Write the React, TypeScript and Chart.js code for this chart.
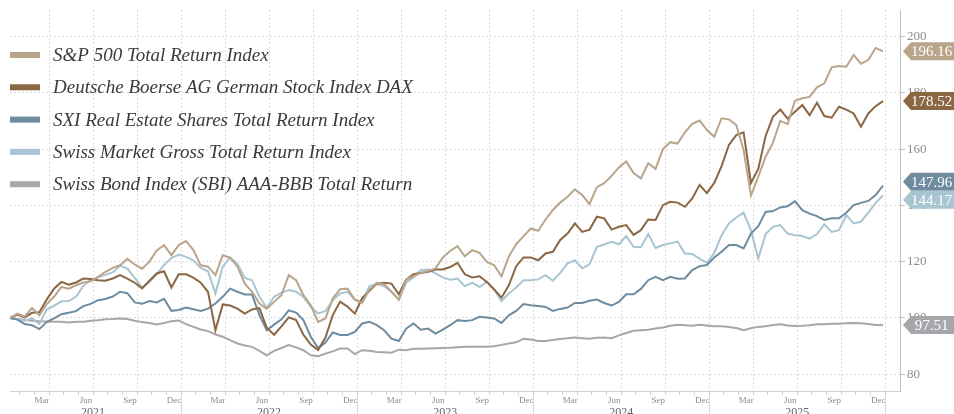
import React, { useEffect, useRef } from 'react';
import { Chart, registerables } from 'chart.js';

Chart.register(...registerables);

// ---- data ----
const SERIES_NAMES = [
  'S&P 500 Total Return Index',
  'Deutsche Boerse AG German Stock Index DAX',
  'SXI Real Estate Shares Total Return Index',
  'Swiss Market Gross Total Return Index',
  'Swiss Bond Index (SBI) AAA-BBB Total Return',
];
const SERIES_COLORS = ['#b9a48c', '#8a6642', '#6e8ba0', '#a9c5d1', '#a7a7ab'];
const LAST_VALUE_LABELS = ['196.16', '178.52', '147.96', '144.17', '97.51'];

// semi-monthly observations, first one in early January 2021 (x = months since 1 Jan 2021)
const FIRST_OBS_MONTH = 0.34;
const OBS_STEP_MONTHS = 0.5;

const SP500 = [
  100, 101.5, 100.5, 103.5, 101, 104.9, 107.5, 111, 110.4, 111.6, 112.6, 113, 114.6, 116.4, 117.8, 118.7, 121, 119, 117.5, 120, 124, 125.9, 122.3, 125.9,
  127.3, 124.1, 118.7, 118.2, 115.2, 122.3, 121.4, 118.2, 112.2, 109.3, 105.1, 103.3, 105.7, 108.1, 115.2, 113.4, 108.1, 104.5, 98.6, 99.8, 106.9, 110.2, 110.4, 106.5,
  105.3, 110.1, 112.5, 112, 109.3, 106.5, 113.6, 114.8, 116, 116.7, 117.6, 121.5, 123.8, 125.5, 121.9, 124.1, 123.1, 119.9, 118.7, 114.8, 121.9, 126.2, 129.1,
  131.8, 131, 135, 138.4, 141, 143.1, 145.7, 143.7, 140.5, 146.5, 147.9, 150.5, 153.5, 155.6, 151.5, 149.6, 155, 153, 160, 162.5, 162, 166, 169, 170.2, 166.8,
  164.4, 171, 170.6, 168.6, 159.7, 143.5, 150.2, 157.3, 162.3, 170.1, 168.9, 177.2, 178.1, 178.6, 182, 183.4, 189.1, 189.6, 189.3, 193.5, 190.4, 191.7, 196, 194.8,
];
const DAX = [
  100, 101.2, 100.2, 101.8, 102, 106.5, 110.4, 112.8, 111.8, 112.6, 114, 113.8, 113.4, 113.2, 114, 115.2, 114, 112.5, 110.5, 113.2, 115.8, 116.6, 110.8, 115.5,
  115.5, 114.3, 112.5, 109.2, 95.6, 104.8, 104.4, 103.3, 101.5, 103, 103.5, 96.5, 94, 97, 100.2, 99.2, 94, 90.5, 88.6, 93, 101, 105.8, 104, 101.5,
  107, 109.6, 112.2, 112.5, 112.2, 108.4, 113.6, 115.5, 116, 116.4, 117.2, 117.2, 118.1, 119.6, 115.5, 114.4, 114.8, 112.8, 110.1, 107.2, 111.6, 118.4, 121.5,
  121.5, 120.5, 122.9, 123.5, 127.7, 130, 133.6, 130.6, 131.4, 136, 135.4, 131.4, 132.4, 133, 129.5, 131.2, 135, 134.8, 140.1, 141.3, 141, 139.5, 142.5, 147.3, 144.4,
  148, 154, 161.5, 165, 166, 148, 153, 164.7, 171.5, 174.1, 170.9, 173.3, 175.7, 172.1, 176.5, 171.8, 171.2, 175.1, 174.1, 172.7, 168, 172.7, 175.3, 177.1,
];
const SXI = [
  100, 99.4, 97.8, 97.4, 96, 98.5, 99.8, 101.3, 101.8, 102.4, 104.2, 105, 106.3, 106.7, 107.6, 109.3, 108.8, 105.5, 105, 106, 105.5, 106.8, 102.5, 102.8,
  103.7, 103.1, 102.5, 103.3, 105.1, 107.5, 110.4, 109.3, 108.3, 108.3, 101, 95.6, 97.6, 99.5, 102.7, 101.9, 99.2, 93.3, 89.3, 91.2, 94.8, 93.9, 93.9, 95,
  98, 98.6, 97.4, 95.6, 92.6, 91.8, 96.2, 98, 95.8, 96.2, 94.4, 95.8, 97.4, 99.2, 98.9, 99.2, 100.4, 100.1, 99.8, 98.2, 100.9, 102.5, 104.9,
  104.5, 104.2, 103.9, 102.5, 103.2, 103.7, 105.3, 105.3, 106.1, 106.5, 105.3, 104.4, 105.7, 108.4, 108.4, 110.3, 113.4, 114.6, 113.4, 114.6, 113.9, 114, 117, 118.4, 118.8,
  121.5, 123.5, 125.9, 125.9, 124.7, 130, 132.6, 137.7, 138, 139.3, 139.7, 141.5, 138.3, 137.1, 136.2, 134.8, 135.4, 135.4, 137.4, 140.1, 140.9, 141.6, 143.7, 147,
];
const SMI = [
  100, 99.5, 99, 99.8, 97.8, 103, 104.3, 105.9, 106, 107.5, 111.4, 113.5, 114.4, 115.3, 116.2, 118.5, 117.5, 114.2, 110.8, 112.8, 115.5, 118.8, 121.3, 122.5,
  121.7, 120.5, 117.8, 116.6, 108.7, 118.2, 121.4, 119.3, 114.2, 113.4, 107.5, 103.6, 107.5, 109, 109.9, 109.3, 107.5, 103.9, 101.6, 102.4, 106.3, 108.7, 109.3, 106.5,
  105.7, 111.3, 112, 111.3, 109.3, 106.5, 112.5, 114.4, 117, 117.2, 115.8, 114.4, 113.6, 114, 111.3, 112.5, 111, 112.8, 110.1, 106, 108.7, 110.8, 113.4,
  113.4, 113.7, 115.2, 113.2, 116, 119.4, 120.5, 117.6, 119.1, 125.3, 126.1, 127.1, 126.2, 129.1, 125.3, 125.1, 129.8, 124.9, 125.9, 126.5, 127.1, 122.9, 122.7, 121.1, 119.6,
  123.1, 129.4, 133.6, 135.7, 137.4, 131.2, 121.1, 129.8, 132.4, 133, 130, 129.4, 129.1, 128.2, 129.8, 133.3, 130.6, 131.2, 136.5, 133.6, 134.2, 137.4, 140.9, 143.5,
];
const SBI = [
  100, 99.6, 99.3, 99, 98.8, 98.7, 98.6, 98.6, 98.4, 98.6, 98.6, 99, 99.2, 99.5, 99.6, 99.8, 99.6, 99, 98.5, 98.2, 97.7, 98.2, 98.8, 99.1,
  97.8, 96.8, 95.9, 95.3, 94.1, 93.3, 92.1, 90.9, 90.2, 89.7, 88.3, 86.7, 88.3, 89.3, 90.3, 89.5,
  88.5, 86.7, 86.4, 87.3, 88.1, 89.1, 89.1, 87.1, 88.5, 88.3, 87.9, 87.8, 87.6, 88.7, 88.5, 89, 89, 89.1, 89.2, 89.3, 89.4, 89.6, 89.7, 89.7, 89.7,
  89.7, 89.9, 90.4, 90.9, 91.3, 92.6, 92.3, 91.8, 91.8, 92.1, 92.5, 92.8, 93, 92.8, 92.6, 92.9, 93, 92.8, 93.8, 94.6,
  95.4, 95.6, 95.8, 96.2, 96.6, 97.2, 97.6, 97.4, 97.2, 97.6, 97.3, 97, 97, 96.8, 96.4, 95.6, 96.3, 96.8, 97, 97.5, 97.7, 97.3, 97.1, 97.2, 97.4,
  97.7, 97.7, 97.9, 97.9, 98.1, 98.2, 98.1, 97.8, 97.5, 97.5,
];
const ALL_SERIES = [SP500, DAX, SXI, SMI, SBI];

const QUARTER_MONTH_LABELS = ['Mar', 'Jun', 'Sep', 'Dec'];
const YEAR_LABELS = ['2021', '2022', '2023', '2024', '2025'];
const Y_TICKS = [80, 100, 120, 140, 160, 180, 200];
const X_MIN = 0.34;
const X_MAX = 61.0;
const Y_MIN = 74;
const Y_MAX = 209.5;

const SERIF = "'Liberation Serif', 'Times New Roman', serif";

const overlayPlugin = {
  id: 'overlay',
  afterDraw(chart: any) {
    const { ctx, chartArea, scales } = chart;
    const xs = scales.x;
    const ys = scales.y;
    const H = chart.height;
    ctx.save();

    // year separators and year labels
    ctx.strokeStyle = '#d6d6d6';
    ctx.lineWidth = 1;
    ctx.fillStyle = '#666';
    ctx.font = `12px ${SERIF}`;
    ctx.textAlign = 'center';
    ctx.textBaseline = 'top';
    YEAR_LABELS.forEach((yr, i) => {
      const x0 = xs.getPixelForValue(i * 12);
      const x1 = xs.getPixelForValue((i + 1) * 12);
      if (x1 <= chartArea.right + 1) {
        const px = Math.round(x1) + 0.5;
        ctx.beginPath();
        ctx.moveTo(px, chartArea.bottom + 3);
        ctx.lineTo(px, H);
        ctx.stroke();
      }
      ctx.fillText(yr, (x0 + x1) / 2, chartArea.bottom + 16);
    });

    // legend
    ctx.textAlign = 'left';
    ctx.textBaseline = 'middle';
    ctx.font = `italic 19px ${SERIF}`;
    SERIES_NAMES.forEach((name, i) => {
      const cy = 55 + i * 32.3;
      ctx.fillStyle = SERIES_COLORS[i];
      ctx.fillRect(10, cy - 3, 30, 6);
      ctx.fillStyle = '#3a3a3a';
      ctx.fillText(name, 53, cy + 1);
    });

    // last value labels
    const BOX_H = 18;
    const items = ALL_SERIES.map((s, i) => ({ i, y: ys.getPixelForValue(s[s.length - 1]) }));
    items.sort((a, b) => a.y - b.y);
    for (let iter = 0; iter < 60; iter++) {
      let moved = false;
      for (let j = 1; j < items.length; j++) {
        const d = items[j].y - items[j - 1].y;
        if (d < BOX_H) {
          const p = (BOX_H - d) / 2;
          items[j - 1].y -= p;
          items[j].y += p;
          moved = true;
        }
      }
      if (!moved) break;
    }
    const tipX = chartArea.right + 3;
    const rectX = tipX + 8;
    const rightX = chart.width;
    ctx.font = `15px ${SERIF}`;
    ctx.textAlign = 'center';
    items.forEach(({ i, y }) => {
      ctx.fillStyle = SERIES_COLORS[i];
      ctx.beginPath();
      ctx.moveTo(tipX, y);
      ctx.lineTo(rectX, y - BOX_H / 2);
      ctx.lineTo(rightX, y - BOX_H / 2);
      ctx.lineTo(rightX, y + BOX_H / 2);
      ctx.lineTo(rectX, y + BOX_H / 2);
      ctx.closePath();
      ctx.fill();
      ctx.fillStyle = '#ffffff';
      ctx.fillText(LAST_VALUE_LABELS[i], (rectX + rightX) / 2 - 1, y + 1);
    });
    ctx.restore();
  },
};

export default function App() {
  const canvasRef = useRef<HTMLCanvasElement | null>(null);

  useEffect(() => {
    const canvas = canvasRef.current;
    if (!canvas) return;
    const datasets = ALL_SERIES.map((vals, i) => ({
      label: SERIES_NAMES[i],
      data: vals.map((v, k) => ({ x: FIRST_OBS_MONTH + OBS_STEP_MONTHS * k, y: v })),
      borderColor: SERIES_COLORS[i],
      backgroundColor: SERIES_COLORS[i],
      borderWidth: 2,
      pointRadius: 0,
      tension: 0,
      fill: false,
    }));
    const chart = new Chart(canvas, {
      type: 'line',
      data: { datasets },
      options: {
        animation: false,
        responsive: false,
        layout: { padding: { left: 10, top: 10, right: 0, bottom: 0 } },
        plugins: { legend: { display: false }, tooltip: { enabled: false } },
        scales: {
          x: {
            type: 'linear',
            min: X_MIN,
            max: X_MAX,
            afterBuildTicks: (s: any) => {
              const t = [];
              for (let m = 1; m <= 60; m++) t.push({ value: m });
              s.ticks = t;
            },
            afterFit: (s: any) => {
              s.height = 23;
            },
            ticks: {
              autoSkip: false,
              maxRotation: 0,
              minRotation: 0,
              labelOffset: -7,
              padding: 0,
              color: '#8c8c8c',
              font: { family: SERIF, size: 9 },
              callback: (v: any) => (v % 3 === 0 ? QUARTER_MONTH_LABELS[(v / 3 - 1) % 4] : ''),
            },
            grid: {
              color: (c: any) => (c.tick && c.tick.value % 3 === 0 ? '#dcdcdc' : 'rgba(0,0,0,0)'),
              tickColor: '#cfcfcf',
              tickLength: 4,
              lineWidth: 1,
            },
            border: { display: true, color: '#d0d0d0', dash: [2, 2] },
          },
          y: {
            type: 'linear',
            position: 'right',
            min: Y_MIN,
            max: Y_MAX,
            afterBuildTicks: (s: any) => {
              s.ticks = Y_TICKS.map((v) => ({ value: v }));
            },
            afterFit: (s: any) => {
              s.width = 54;
            },
            ticks: {
              padding: 2,
              color: '#8c8c8c',
              font: { family: SERIF, size: 13 },
            },
            grid: { color: '#dcdcdc', tickColor: '#c4c4c4', tickLength: 5, lineWidth: 1 },
            border: { display: true, color: '#bdbdbd', dash: [2, 2] },
          },
        },
      },
      plugins: [overlayPlugin],
    } as any);
    return () => chart.destroy();
  }, []);

  return (
    <div style={{ position: 'fixed', left: 0, top: 0, width: 954, height: 414, background: '#fff' }}>
      <canvas ref={canvasRef} width={954} height={414} style={{ display: 'block' }} />
    </div>
  );
}
